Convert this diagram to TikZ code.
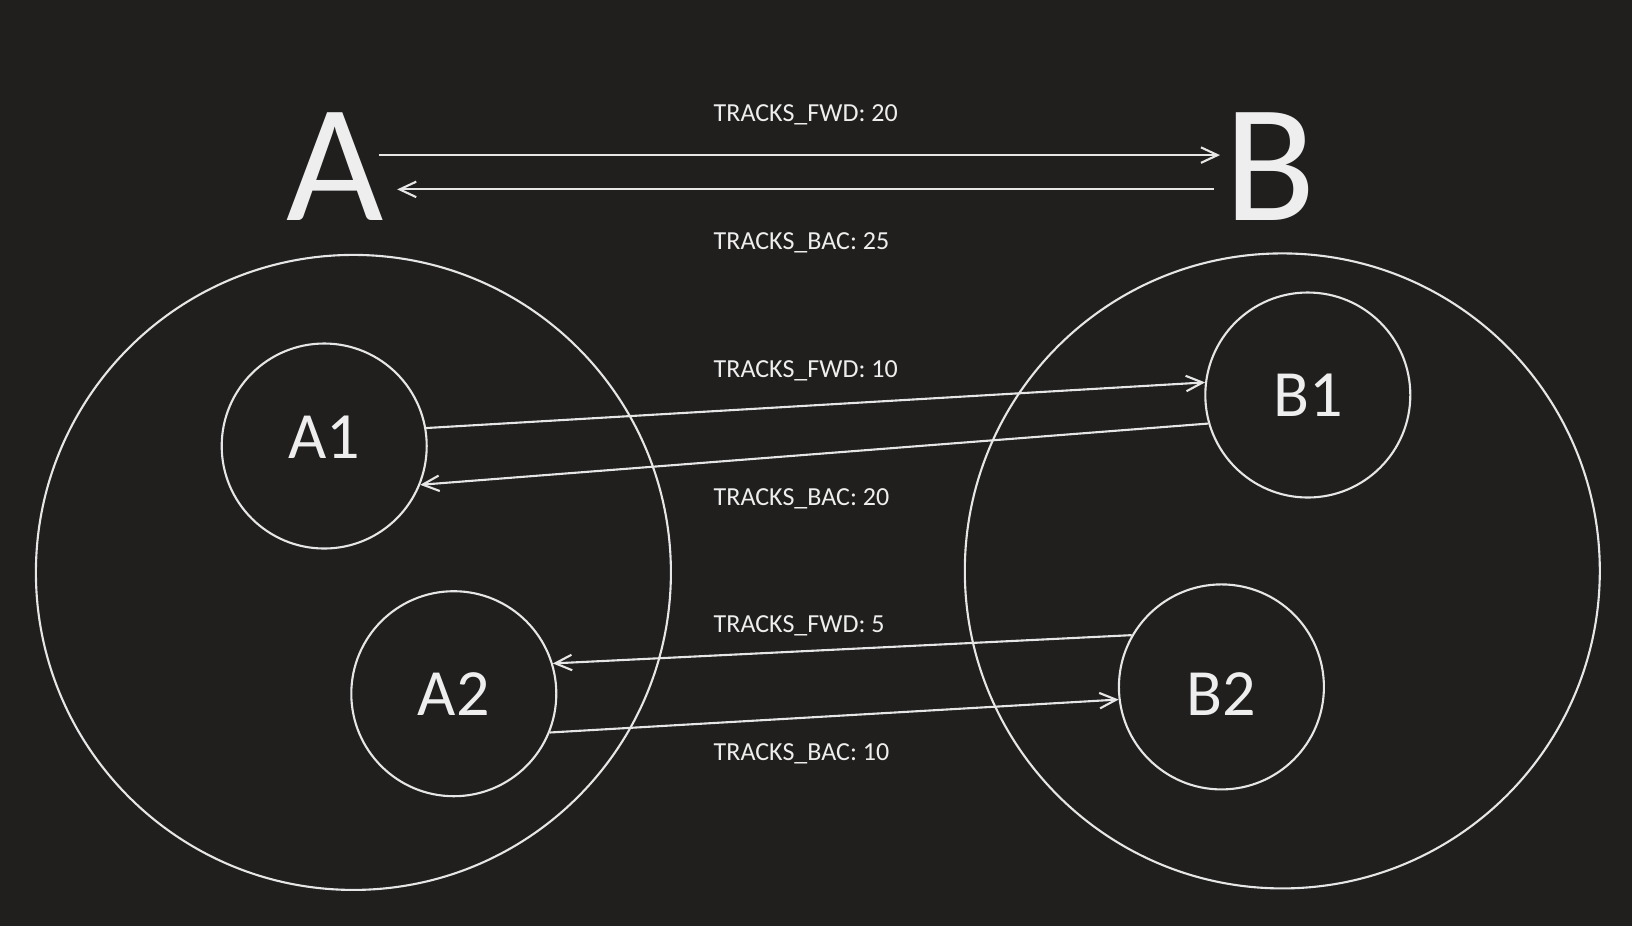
\documentclass[tikz,border=0pt]{standalone}
\usepackage{fontspec}
\setmainfont{Carlito}
\usetikzlibrary{arrows.meta,positioning}
\definecolor{bgdark}{HTML}{201F1E}
\definecolor{inkline}{HTML}{E6E6E6}
\definecolor{inktext}{HTML}{EEEEEE}

\begin{document}
\begin{tikzpicture}[
  region/.style={draw=inkline, line width=0.6pt, circle, minimum size=6.35cm, inner sep=0pt},
  cell/.style={draw=inkline, line width=0.6pt, circle, minimum size=2.05cm, inner sep=0pt,
               text=inktext, font=\fontsize{18.8pt}{22pt}\selectfont},
  letter/.style={inner sep=0pt, text=inktext, font=\fontsize{47.8pt}{56pt}\selectfont, anchor=base},
  tracklbl/.style={inner sep=0pt, text=inktext, font=\fontsize{7.4pt}{9pt}\selectfont, anchor=base west},
  flow/.style={draw=inkline, line width=0.6pt, -{Straight Barb[length=4.7pt,width=4.4pt]}}
]
  % Background
  \fill[bgdark] (0,0) rectangle (16.32,-9.26);
  \useasboundingbox (0,0) rectangle (16.32,-9.26);
  % Hosts
  \node[letter] (A) at (3.355,-2.206) {A};
  \node[letter] (B) at (12.706,-2.206) {B};
  % Regions and cells
  \node[region] (bigA) at (3.534,-5.724) {};
  \node[region] (bigB) at (12.823,-5.709) {};
  \node[cell, text depth=0.17cm] (A1) at (3.242,-4.460) {A1};
  \node[cell] (A2) at (4.538,-6.937) {A2};
  \node[cell] (B1) at (13.078,-3.950) {B1};
  \node[cell, text height=0.565cm] (B2) at (12.214,-6.869) {B2};
  % Tracks
  \draw[flow] ([shift={(-0.063,0.655)}]A.base east) -- ([shift={(-0.042,0.655)}]B.base west);
  \draw[flow] ([shift={(-0.105,0.312)}]B.base west) -- ([shift={(0.124,0.312)}]A.base east);
  \draw[flow] (A1.10) -- (B1.173);
  \draw[flow] (B1.196) -- (A1.338);
  \draw[flow] (B2.150) -- (A2.17);
  \draw[flow] (A2.338) -- (B2.187);
  % Labels
  \foreach \txt [count=\k from 0] in {TRACKS\_FWD: 20, TRACKS\_BAC: 25, TRACKS\_FWD: 10,
                                     TRACKS\_BAC: 20, TRACKS\_FWD: 5, TRACKS\_BAC: 10}
    \node[tracklbl] (trk\k) at (7.13,{-1.217-1.278*\k}) {\txt};
\end{tikzpicture}
\end{document}
